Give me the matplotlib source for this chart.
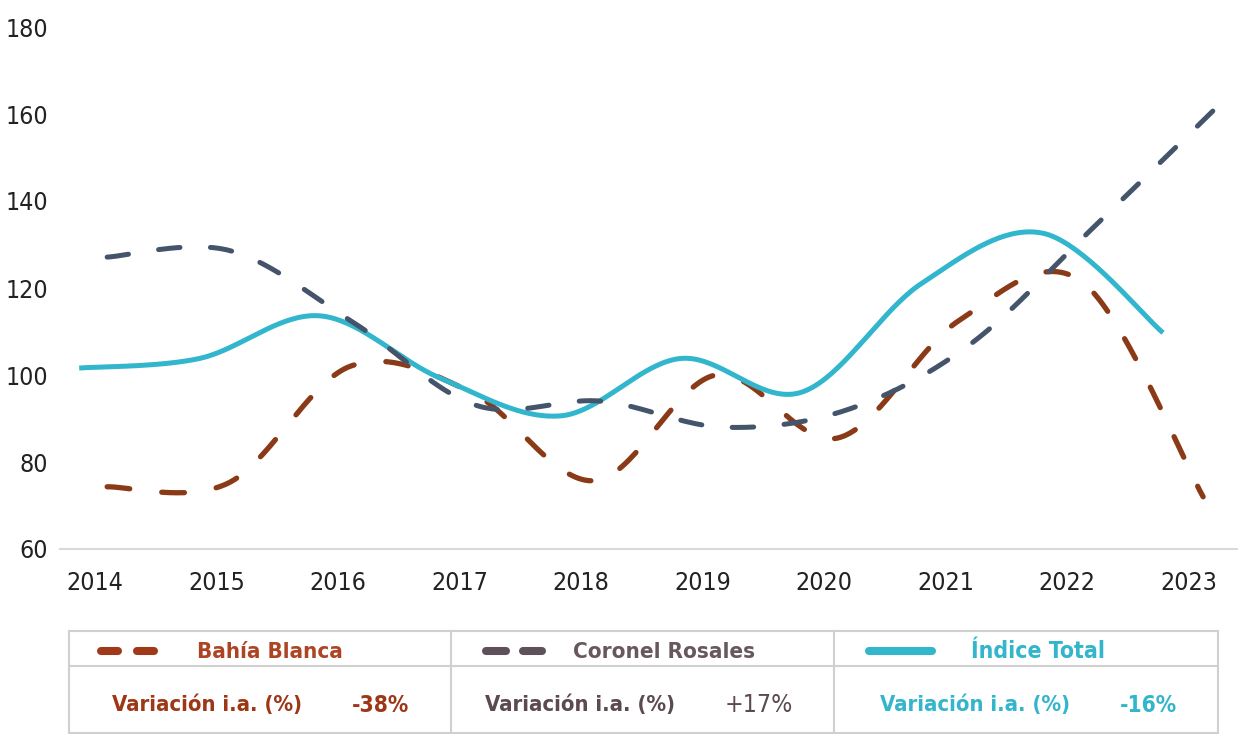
import numpy as np
import matplotlib
matplotlib.use("Agg")
import matplotlib.pyplot as plt
from matplotlib import font_manager as fm

# -----------------------------
# Data
# -----------------------------
years = [2014, 2015, 2016, 2017, 2018, 2019, 2020, 2021, 2022, 2023]

# each series is plotted at slightly shifted positions in the original
x_bahia = [2014.10, 2015.10, 2016.10, 2017.10, 2018.11, 2019.11, 2020.11, 2021.11, 2022.12, 2023.12]
bahia = [74.3, 75.2, 102.0, 96.0, 75.7, 100.0, 85.5, 112.5, 121.5, 72.0]

x_rosales = [2014.10, 2015.11, 2016.13, 2017.14, 2018.16, 2019.17, 2020.19, 2021.20, 2022.22, 2023.23]
rosales = [127.1, 128.6, 112.0, 93.0, 94.0, 88.0, 92.0, 107.0, 134.0, 161.5]

x_total = [2013.87, 2014.86, 2015.85, 2016.84, 2017.83, 2018.82, 2019.81, 2020.80, 2021.80, 2022.79]
total = [101.6, 103.8, 113.6, 99.3, 90.6, 103.8, 96.0, 121.0, 132.6, 109.7]

series_names = ["Bahía Blanca", "Coronel Rosales", "Índice Total"]
variations = ["-38%", "+17%", "-16%"]

C_BAHIA = "#8B3A17"
C_ROSALES = "#44546A"
C_TOTAL = "#31B6CE"

# pick a narrow font if one is installed
fonts = fm.fontManager.ttflist
names = {f.name for f in fonts}
if "Liberation Sans Narrow" in names:
    FONT, STRETCH = "Liberation Sans Narrow", "normal"
elif any(f.name == "DejaVu Sans" and f.stretch == "condensed" for f in fonts):
    FONT, STRETCH = "DejaVu Sans", "condensed"
elif "Roboto Condensed" in names:
    FONT, STRETCH = "Roboto Condensed", "normal"
else:
    FONT, STRETCH = "Liberation Sans", "normal"


# -----------------------------
# Excel-like smoothed line (cubic bezier through points)
# -----------------------------
def smooth(x, y, n=40):
    p = np.column_stack([x, y]).astype(float)
    ext = np.vstack([p[0], p, p[-1]])
    out = []
    for i in range(len(p) - 1):
        p0, p1, p2, p3 = ext[i], ext[i + 1], ext[i + 2], ext[i + 3]
        c1 = p1 + (p2 - p0) / 6
        c2 = p2 - (p3 - p1) / 6
        t = np.linspace(0, 1, n)[:, None]
        seg = ((1 - t) ** 3) * p1 + 3 * ((1 - t) ** 2) * t * c1 + 3 * (1 - t) * t ** 2 * c2 + t ** 3 * p2
        out.append(seg if i == 0 else seg[1:])
    seg = np.vstack(out)
    return seg[:, 0], seg[:, 1]


fig = plt.figure(figsize=(12.38, 7.34), dpi=100)
renderer = fig.canvas.get_renderer()


def fit_width(txt, target_w):
    w = txt.get_window_extent(renderer).width
    txt.set_fontsize(txt.get_fontsize() * target_w / w)


ax = fig.add_axes([60 / 1238, 185 / 734, 1178 / 1238, 522 / 734])

xs, ys = smooth(x_bahia, bahia)
ax.plot(xs, ys, color=C_BAHIA, lw=3.8, dashes=(4.3, 6.1), dash_capstyle="round", zorder=2)
xs, ys = smooth(x_total, total)
ax.plot(xs, ys, color=C_TOTAL, lw=3.6, solid_capstyle="butt", zorder=3)
xs, ys = smooth(x_rosales, rosales)
ax.plot(xs, ys, color=C_ROSALES, lw=3.6, dashes=(4.3, 6.1), dash_capstyle="round", zorder=4)

ax.set_xlim(2013.712, 2023.407)
ax.set_ylim(60, 180)
ax.set_yticks(range(60, 181, 20))
ax.set_xticks(years)
ax.set_xticklabels([str(y) for y in years])
for s in ["top", "right", "left"]:
    ax.spines[s].set_visible(False)
ax.spines["bottom"].set_color("#d9d9d9")
ax.spines["bottom"].set_linewidth(1.5)

# size tick labels so "2014" is ~57 px wide like the reference
probe = fig.text(0, 0, "2014", fontsize=20, family=FONT, stretch=STRETCH)
fit_width(probe, 57)
tick_fs = probe.get_fontsize()
probe.remove()

ax.tick_params(axis="both", length=0, labelsize=tick_fs, labelcolor="#222222")
ax.tick_params(axis="y", pad=8.5)
ax.tick_params(axis="x", pad=16)
for lab in ax.get_xticklabels() + ax.get_yticklabels():
    lab.set_family(FONT)
    lab.set_stretch(STRETCH)

# -----------------------------
# Legend table below the chart (pixel coordinates)
# -----------------------------
lg = fig.add_axes([0, 0, 1, 1], zorder=5)
lg.set_xlim(0, 1238)
lg.set_ylim(734, 0)
lg.axis("off")
lg.patch.set_alpha(0)

grid_c = "#d0d0d0"
left, right, top, mid, bottom = 69, 1218, 631, 666, 733
cols = [69, 451, 834, 1218]
lg.plot([left, right], [top, top], color=grid_c, lw=1.5)
lg.plot([left, right], [mid, mid], color=grid_c, lw=1.5)
lg.plot([left, right], [bottom, bottom], color=grid_c, lw=1.5)
for cx in cols:
    lg.plot([cx, cx], [top, bottom], color=grid_c, lw=1.5)

head_colors = ["#AD4524", "#67585F", "#33B5CC"]
row_colors = ["#9E3716", "#5B4A52", "#33B5CC"]
sample_colors = ["#A0391A", "#5F5159", "#33B5CC"]

# samples
lg.plot([101, 118], [651, 651], color=sample_colors[0], lw=5.8, solid_capstyle="round")
lg.plot([137, 154], [651, 651], color=sample_colors[0], lw=5.8, solid_capstyle="round")
lg.plot([486, 506], [651, 651], color=sample_colors[1], lw=5.8, solid_capstyle="round")
lg.plot([523, 542], [651, 651], color=sample_colors[1], lw=5.8, solid_capstyle="round")
lg.plot([869, 932], [651, 651], color=sample_colors[2], lw=5.8, solid_capstyle="round")

head_x = [197, 573, 971]
head_w = [146, 182, 134]
label_x = [112, 485, 880]
val_x = [352, 725, 1120]
val_w = [57, 68, 57]
for i in range(3):
    t = lg.text(head_x[i], 652, series_names[i], color=head_colors[i], fontsize=18,
                fontweight="bold", family=FONT, stretch=STRETCH, ha="left", va="center")
    fit_width(t, head_w[i])
    t = lg.text(label_x[i], 705, "Variación i.a. (%)", color=row_colors[i], fontsize=21,
                fontweight="bold", family=FONT, stretch=STRETCH, ha="left", va="center")
    fit_width(t, 190)
    t = lg.text(val_x[i], 705, variations[i], color=row_colors[i], fontsize=21,
                fontweight="normal" if i == 1 else "bold", family=FONT, stretch=STRETCH,
                ha="left", va="center")
    fit_width(t, val_w[i])

fig.savefig("out.png", dpi=100)
